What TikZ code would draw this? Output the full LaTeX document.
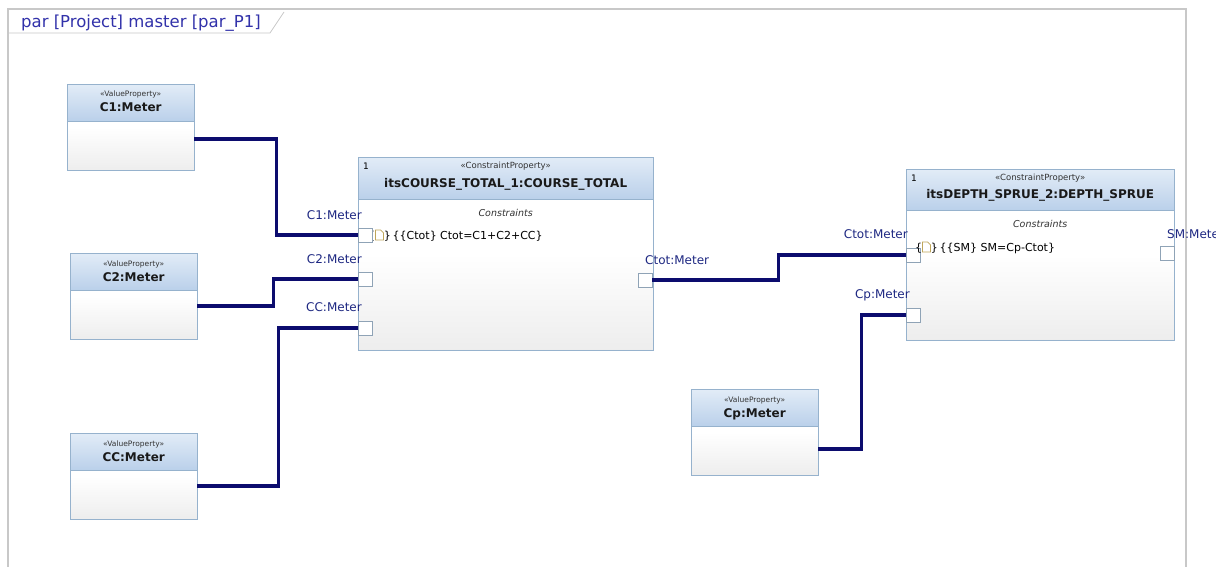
\documentclass[tikz,border=0pt]{standalone}
\usepackage{fontspec}
\setmainfont{DejaVu Sans}
\usetikzlibrary{positioning}

\definecolor{wirecol}{RGB}{12,12,110}
\definecolor{hdtop}{RGB}{226,236,247}
\definecolor{hdbot}{RGB}{186,208,234}
\definecolor{boxline}{RGB}{150,178,205}
\definecolor{lblcol}{RGB}{30,40,130}
\definecolor{titlecol}{RGB}{50,50,170}
\definecolor{framecol}{RGB}{200,200,200}
\definecolor{iconcol}{RGB}{190,165,90}

\tikzset{
  wire/.style={draw=wirecol, line width=3.5pt},
  bodybox/.style={draw=boxline, anchor=north west, inner sep=0pt,
    top color=white, bottom color=black!7, middle color=white},
  headbox/.style={draw=boxline, anchor=north west, inner sep=0pt,
    top color=hdtop, bottom color=hdbot},
  portbox/.style={draw=boxline!70!gray, fill=white, minimum size=14pt,
    inner sep=0pt, anchor=north west},
  plbl/.style={text=lblcol, inner sep=0pt, font=\fontsize{12}{14}\selectfont},
  stereo/.style={inner sep=0pt, anchor=base, text=black!80},
  btitle/.style={inner sep=0pt, anchor=base, text=black!90, font=\bfseries\fontsize{12}{14}\selectfont},
}

\newcommand{\docicon}{\tikz[x=1pt,y=1pt,baseline=0pt]\draw[iconcol,fill=white,line width=0.7pt]
  (0,-1) -- (0,9) -- (5,9) -- (8,6) -- (8,-1) -- cycle;}

\begin{document}
\begin{tikzpicture}[x=1pt,y=-1pt]
  \clip (0,0) rectangle (1216,567);
  \fill[white] (0,0) rectangle (1216,567);

  % marco
  \draw[framecol, line width=1.2pt] (8,567) -- (8,9) -- (1186,9) -- (1186,567);
  \draw[framecol, line width=0.8pt] (8,33) -- (270,33) -- (284,12);
  \node[anchor=base west, inner sep=0pt, text=titlecol, font=\fontsize{16.5}{19}\selectfont]
    (titulo) at (21,28) {par [Project] master [par\_P1]};

  % propiedades de valor
  \foreach \n/\x/\y/\t in {c1/67/84/C1, c2/70/253/C2, cc/70/433/CC, cp/691/389/Cp}{
    \node[bodybox, minimum width=127pt, minimum height=86pt] (\n) at (\x,\y) {};
    \node[headbox, minimum width=127pt, minimum height=37pt] (\n h) at (\x,\y) {};
    \node[stereo, font=\fontsize{7.5}{9}\selectfont] at ([yshift=-13pt]\n h.north) {«ValueProperty»};
    \node[btitle] at ([yshift=-28pt]\n h.north) {\t:Meter};
  }

  % bloques de restricciones
  \node[bodybox, minimum width=295pt, minimum height=193pt] (course) at (358,157) {};
  \node[headbox, minimum width=295pt, minimum height=42pt] (courseh) at (358,157) {};
  \node[anchor=base west, inner sep=0pt, font=\fontsize{9}{11}\selectfont] at ([shift={(5pt,-13pt)}]courseh.north west) {1};
  \node[stereo, font=\fontsize{8.5}{10}\selectfont] at ([yshift=-11pt]courseh.north) {«ConstraintProperty»};
  \node[btitle] at ([yshift=-30pt]courseh.north) {itsCOURSE\_TOTAL\_1:COURSE\_TOTAL};
  \node[stereo, font=\itshape\fontsize{9.5}{11}\selectfont] at ([yshift=-17pt]courseh.south) {Constraints};
  \node[anchor=base west, inner sep=0pt, font=\fontsize{11}{13}\selectfont]
    (ccourse) at (368,239) {\{\docicon\}\,\{\{Ctot\} Ctot=C1+C2+CC\}};

  \node[bodybox, minimum width=268pt, minimum height=171pt] (depth) at (906,169) {};
  \node[headbox, minimum width=268pt, minimum height=41pt] (depthh) at (906,169) {};
  \node[anchor=base west, inner sep=0pt, font=\fontsize{9}{11}\selectfont] at ([shift={(5pt,-13pt)}]depthh.north west) {1};
  \node[stereo, font=\fontsize{8.5}{10}\selectfont] at ([yshift=-11pt]depthh.north) {«ConstraintProperty»};
  \node[btitle] at ([yshift=-30pt]depthh.north) {itsDEPTH\_SPRUE\_2:DEPTH\_SPRUE};
  \node[stereo, font=\itshape\fontsize{9.5}{11}\selectfont] at ([yshift=-17pt]depthh.south) {Constraints};

  % puertos
  \node[portbox] (pc1) at (358,228) {};
  \node[portbox] (pc2) at (358,272) {};
  \node[portbox] (pcc) at (358,321) {};
  \node[portbox] (pctot) at (638,273) {};
  \node[portbox] (pdctot) at (906,248) {};
  \node[portbox] (pdcp) at (906,308) {};
  \node[portbox] (pdsm) at (1160,246) {};
  \node[anchor=base west, inner sep=0pt, font=\fontsize{11}{13}\selectfont]
    (cdepth) at (915,251) {\{\docicon\}\,\{\{SM\} SM=Cp-Ctot\}};

  \node[plbl, anchor=base east] at ([shift={(4pt,9pt)}]pc1.north west) {C1:Meter};
  \node[plbl, anchor=base east] at ([shift={(4pt,9pt)}]pc2.north west) {C2:Meter};
  \node[plbl, anchor=base east] at ([shift={(4pt,10pt)}]pcc.north west) {CC:Meter};
  \node[plbl, anchor=base west] at ([shift={(7pt,9pt)}]pctot.north west) {Ctot:Meter};
  \node[plbl, anchor=base east] at ([shift={(2pt,10pt)}]pdctot.north west) {Ctot:Meter};
  \node[plbl, anchor=base east] at ([shift={(4pt,10pt)}]pdcp.north west) {Cp:Meter};
  \node[plbl, anchor=base west] at ([shift={(7pt,8pt)}]pdsm.north west) {SM:Meter};

  % conectores
  \draw[wire] ([yshift=-12pt]c1.east) -- ++(82,0) |- (pc1.west);
  \draw[wire] ([yshift=-10pt]c2.east) -- ++(76,0) |- (pc2.west);
  \draw[wire] ([yshift=-10pt]cc.east) -- ++(81,0) |- (pcc.west);
  \draw[wire] (pctot.east) -- ++(126,0) |- (pdctot.west);
  \draw[wire] ([yshift=-17pt]cp.east) -- ++(43,0) |- (pdcp.west);
\end{tikzpicture}
\end{document}
